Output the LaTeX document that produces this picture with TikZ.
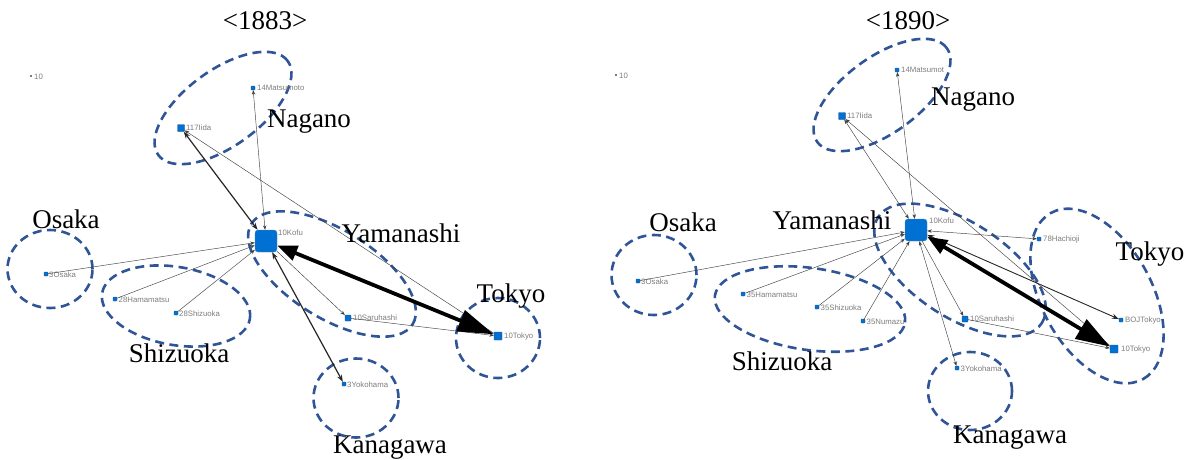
\documentclass[tikz,border=0pt]{standalone}
\usepackage{fontspec}
\setmainfont{Liberation Serif}
\newfontfamily\lblfont{Liberation Sans}
\usetikzlibrary{arrows.meta,shapes.geometric}
\definecolor{nodeblue}{RGB}{0,112,210}
\definecolor{nodeedge}{RGB}{30,80,140}
\definecolor{regblue}{RGB}{47,85,151}
\definecolor{lblgrey}{RGB}{125,125,125}
\tikzset{
  vtx/.style={rectangle, fill=nodeblue, draw=nodeedge, line width=0.3pt, inner sep=0pt, minimum size=#1, rounded corners=0.6pt},
  bigvtx/.style={rectangle, fill=nodeblue, draw=nodeedge!70, line width=0.4pt, inner sep=0pt, minimum size=22pt, rounded corners=3pt},
  dotvtx/.style={circle, fill=black!70, inner sep=0pt, minimum size=2.4pt},
  lbl/.style={font=\lblfont\fontsize{7.8}{9}\selectfont, text=lblgrey, anchor=west, inner sep=0pt},
  big/.style={font=\fontsize{27}{30}\selectfont, anchor=base, inner sep=0pt},
  region/.style={ellipse, draw=regblue, line width=2.6pt, dash pattern=on 9pt off 5.5pt, inner sep=0pt, fill=none},
  thin/.style={draw=black!75, line width=0.45pt},
  medium/.style={draw=black!85, line width=1.2pt},
  heavy/.style={draw=black, line width=3.8pt},
  >={Stealth[length=4.5pt,width=3.4pt]},
  medtip/.tip={Stealth[length=7pt,width=5pt]},
}
\begin{document}
\begin{tikzpicture}[x=1pt,y=-1pt]
\useasboundingbox (0,0) rectangle (1190,459);

% ================= 1883 =================
\node[big] (t1) at (265,29) {<1883>};

% regions
\node[region, minimum width=160pt, minimum height=76pt, rotate=36] (ng1) at (223,108) {};
\node[region, minimum width=85pt, minimum height=78pt] (os1) at (50,269) {};
\node[region, minimum width=150pt, minimum height=78pt, rotate=-10] (sz1) at (176,306) {};
\node[region, minimum width=190pt, minimum height=88pt, rotate=-32] (ym1) at (332,274) {};
\node[region, minimum width=84pt, minimum height=80pt] (tk1) at (498,338) {};
\node[region, minimum width=85pt, minimum height=79pt] (kg1) at (356,398) {};

% vertices
\node[dotvtx] (d1) at (31,76) {};
\node[vtx=4pt] (mat1) at (253,88) {};
\node[vtx=7pt] (iida1) at (181,128) {};
\node[bigvtx] (kofu1) at (266,241) {};
\node[vtx=4pt] (osaka1) at (46,274) {};
\node[vtx=4pt] (hama1) at (115,299) {};
\node[vtx=4pt] (shiz1) at (176,313) {};
\node[vtx=6pt] (saru1) at (348,318) {};
\node[vtx=8pt] (tokyo1) at (498,336) {};
\node[vtx=4pt] (yoko1) at (344,384) {};

% small labels
\node[lbl] (d1L) at (34,77) {10};
\node[lbl] (mat1L) at (257,88) {14Matsumoto};
\node[lbl] (iida1L) at (186,128) {117Iida};
\node[lbl] (kofu1L) at (278,233) {10Kofu};
\node[lbl] (osaka1L) at (49,274.5) {3Osaka};
\node[lbl] (hama1L) at (118.5,299.5) {28Hamamatsu};
\node[lbl] (shiz1L) at (179,313.5) {28Shizuoka};
\node[lbl] (saru1L) at (353,318) {10Saruhashi};
\node[lbl] (tokyo1L) at (504,336) {10Tokyo};
\node[lbl] (yoko1L) at (347,384.5) {3Yokohama};

% edges
\draw[medium, medtip-medtip] (iida1) -- (kofu1);
\draw[thin, ->] (tokyo1) -- (iida1);
\draw[thin, <->] (kofu1) -- (mat1);
\draw[thin, ->] (osaka1) -- (kofu1);
\draw[thin, ->] (hama1) -- (kofu1);
\draw[thin, ->] (shiz1) -- (kofu1);
\draw[thin, ->] (kofu1) -- (saru1);
\draw[thin, ->] (saru1) -- (tokyo1);
\draw[medium, medtip-medtip] (yoko1) -- (kofu1);
\draw[heavy, {Triangle[length=20pt,width=15pt]}-{Triangle[length=36pt,width=22pt]}] (kofu1) -- (tokyo1);

% region names
\node[big] (ng1T) at (309,127) {Nagano};
\node[big] (os1T) at (66,228) {Osaka};
\node[big] (ym1T) at (401,242) {Yamanashi};
\node[big] (tk1T) at (511,302) {Tokyo};
\node[big] (sz1T) at (179,362) {Shizuoka};
\node[big] (kg1T) at (390,453) {Kanagawa};

% ================= 1890 =================
\node[big] (t2) at (908,29) {<1890>};

% regions
\node[region, minimum width=160pt, minimum height=76pt, rotate=36] (ng2) at (882,95) {};
\node[region, minimum width=85pt, minimum height=80pt] (os2) at (654,275) {};
\node[region, minimum width=192pt, minimum height=82pt, rotate=-8] (sz2) at (810,309) {};
\node[region, minimum width=195pt, minimum height=95pt, rotate=-33] (ym2) at (960,270) {};
\node[region, minimum width=190pt, minimum height=110pt, rotate=-61] (tk2) at (1097,296) {};
\node[region, minimum width=84pt, minimum height=78pt] (kg2) at (970,391) {};

% vertices
\node[dotvtx] (d2) at (616,75) {};
\node[vtx=4pt] (mat2) at (897,70) {};
\node[vtx=7pt] (iida2) at (842,116) {};
\node[bigvtx] (kofu2) at (916,230) {};
\node[vtx=4pt] (osaka2) at (638,281) {};
\node[vtx=4pt] (hama2) at (743,294) {};
\node[vtx=4pt] (shiz2) at (817,307) {};
\node[vtx=4pt] (numa2) at (863,321) {};
\node[vtx=6pt] (saru2) at (965,319) {};
\node[vtx=4pt] (hach2) at (1039,239) {};
\node[vtx=4pt] (boj2) at (1121,320) {};
\node[vtx=8pt] (tokyo2) at (1114,349) {};
\node[vtx=4pt] (yoko2) at (957,368) {};

% small labels
\node[lbl] (d2L) at (619,76) {10};
\node[lbl] (mat2L) at (901,70) {14Matsumot};
\node[lbl] (iida2L) at (847,116) {117Iida};
\node[lbl] (kofu2L) at (929,221) {10Kofu};
\node[lbl] (osaka2L) at (641,281.5) {3Osaka};
\node[lbl] (hama2L) at (746.5,294.5) {35Hamamatsu};
\node[lbl] (shiz2L) at (820.5,307.5) {35Shizuoka};
\node[lbl] (numa2L) at (866.5,321.5) {35Numazu};
\node[lbl] (saru2L) at (970,318.5) {10Saruhashi};
\node[lbl] (hach2L) at (1043,239.5) {78Hachioji};
\node[lbl] (boj2L) at (1125,320.5) {BOJTokyo};
\node[lbl] (tokyo2L) at (1121,349) {10Tokyo};
\node[lbl] (yoko2L) at (960.5,368.5) {3Yokohama};

% edges
\draw[thin, <->] (iida2) -- (kofu2);
\draw[thin, ->] (tokyo2) -- (iida2);
\draw[thin, <->] (kofu2) -- (mat2);
\draw[thin, ->] (osaka2) -- (kofu2);
\draw[thin, ->] (hama2) -- (kofu2);
\draw[thin, ->] (shiz2) -- (kofu2);
\draw[thin, ->] (numa2) -- (kofu2);
\draw[thin, <->] (kofu2) -- (hach2);
\draw[thin, ->] (kofu2) -- (saru2);
\draw[thin, ->] (saru2) -- (tokyo2);
\draw[thin, <->] (yoko2) -- (kofu2);
\draw[medium, line width=0.9pt, medtip-medtip] (kofu2) -- (boj2);
\draw[heavy, {Triangle[length=20pt,width=15pt]}-{Triangle[length=34pt,width=22pt]}] (kofu2) -- (tokyo2);

% region names
\node[big] (ng2T) at (973,105) {Nagano};
\node[big] (os2T) at (683,231) {Osaka};
\node[big] (ym2T) at (832,229) {Yamanashi};
\node[big] (tk2T) at (1150,260) {Tokyo};
\node[big] (sz2T) at (782,370) {Shizuoka};
\node[big] (kg2T) at (1010,443) {Kanagawa};
\end{tikzpicture}
\end{document}
